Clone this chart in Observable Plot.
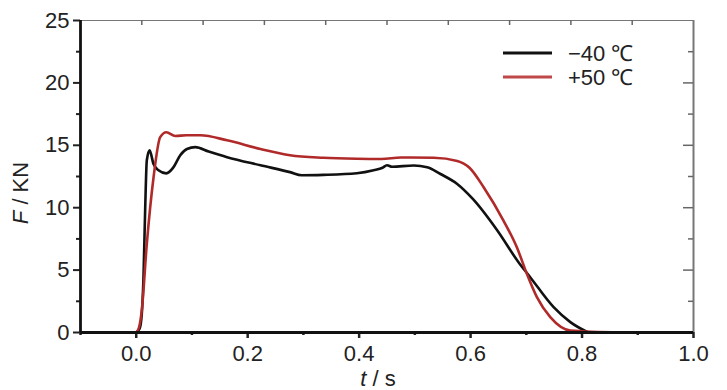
<!DOCTYPE html>
<html>
<head>
<meta charset="utf-8">
<script src="https://cdn.jsdelivr.net/npm/d3@7"></script>
<script src="https://cdn.jsdelivr.net/npm/@observablehq/plot@0.6"></script>
<style>
  html, body { margin: 0; padding: 0; background: #fff; }
  #chart svg { display: block; }
</style>
</head>
<body>
<div id="chart"></div>
<script>
// Series: time (s) and force (kN)
const seriesNames = ["−40 ℃", "+50 ℃"];
const tCold = [0, 0.006, 0.010, 0.013, 0.016, 0.019, 0.024, 0.031, 0.040, 0.054, 0.067, 0.079, 0.091, 0.106, 0.130, 0.163, 0.223, 0.276, 0.297, 0.336, 0.396, 0.426, 0.442, 0.450, 0.459, 0.498, 0.522, 0.546, 0.576, 0.604, 0.648, 0.686, 0.707, 0.749, 0.779, 0.811];
const fCold = [0, 0.3, 1.5, 4.4, 9.8, 13.8, 14.6, 13.5, 13.0, 12.75, 13.25, 14.2, 14.7, 14.85, 14.5, 14.05, 13.4, 12.85, 12.6, 12.63, 12.76, 13.0, 13.2, 13.4, 13.28, 13.38, 13.25, 12.7, 11.9, 10.7, 8.17, 5.63, 4.43, 2.03, 0.83, 0];
const tHot = [0, 0.005, 0.010, 0.019, 0.031, 0.043, 0.054, 0.070, 0.090, 0.115, 0.163, 0.223, 0.276, 0.336, 0.396, 0.440, 0.475, 0.534, 0.576, 0.598, 0.624, 0.659, 0.683, 0.701, 0.719, 0.743, 0.779, 0.869];
const fHot = [0, 0.4, 1.8, 7.1, 12.4, 15.65, 16.05, 15.75, 15.8, 15.8, 15.4, 14.7, 14.2, 14.0, 13.92, 13.9, 14.02, 14.0, 13.75, 13.2, 11.6, 8.97, 6.83, 4.7, 2.83, 1.23, 0.16, 0];

// Axis ticks
const xTickLabels = [0, 0.2, 0.4, 0.6, 0.8, 1.0];
const xMinorTicks = [-0.1, 0.1, 0.3, 0.5, 0.7, 0.9];
const yTickLabels = [0, 5, 10, 15, 20, 25];
const yMinorTicks = [2.5, 7.5, 12.5, 17.5, 22.5];
const topTicks = [0.01, 0.12, 0.23, 0.34, 0.45, 0.56, 0.67, 0.78, 0.89];
const rightMajor = [5, 10, 15, 20];
const rightMinor = [2.5, 7.5, 12.5, 17.5, 22.5];

const colors = ["#111111", "#b02a2a"];
const legendColors = ["#111111", "#c04848"];

const data = [
  ...tCold.map((t, i) => ({series: seriesNames[0], t, f: fCold[i]})),
  ...tHot.map((t, i) => ({series: seriesNames[1], t, f: fHot[i]}))
];

const W = 727, H = 390;
const mL = 80, mR = 34, mT = 20, mB = 58;
const frameW = W - mL - mR, frameH = H - mT - mB;

const chart = Plot.plot({
  width: W,
  height: H,
  marginLeft: mL,
  marginRight: mR,
  marginTop: mT,
  marginBottom: mB,
  style: {fontFamily: "'Liberation Sans', Arial, sans-serif", fontSize: "22px", color: "#222", background: "#fff"},
  x: {domain: [-0.1, 1.0]},
  y: {domain: [0, 25]},
  color: {domain: seriesNames, range: colors},
  marks: [
    // frame top and right (gray)
    Plot.ruleY([25], {stroke: "#777", strokeWidth: 1.2}),
    Plot.ruleX([1.0], {stroke: "#777", strokeWidth: 2}),
    // inward ticks on top and right
    Plot.tickX(topTicks, {x: d => d, insetBottom: frameH - 5, stroke: "#666", strokeWidth: 1.5}),
    Plot.tickY(rightMajor, {y: d => d, insetLeft: frameW - 10, stroke: "#666", strokeWidth: 1.5}),
    Plot.tickY(rightMinor, {y: d => d, insetLeft: frameW - 5, stroke: "#666", strokeWidth: 1.5}),
    // bottom axis
    Plot.axisX({ticks: xTickLabels, tickFormat: d3.format(".1f"), tickSize: 6, tickPadding: 7, strokeWidth: 2.5, fill: "#222", fontSize: 22, label: null}),
    Plot.axisX({ticks: xMinorTicks, tickFormat: () => "", tickSize: 3, strokeWidth: 2.5, label: null}),
    // left axis
    Plot.axisY({ticks: yTickLabels, tickSize: 7, tickPadding: 4, strokeWidth: 2, fill: "#222", fontSize: 22, label: null}),
    Plot.axisY({ticks: yMinorTicks, tickFormat: () => "", tickSize: 4, strokeWidth: 2, label: null}),
    // curves
    Plot.line(data, {x: "t", y: "f", z: "series", stroke: "series", strokeWidth: 2.6, curve: "monotone-x"}),
    // axis lines (thick black)
    Plot.ruleY([0], {stroke: "#111", strokeWidth: 2.8}),
    Plot.ruleX([-0.1], {stroke: "#111", strokeWidth: 2.8})
  ]
});

document.getElementById("chart").appendChild(chart);

// Axis titles and legend as real SVG text
const svg = d3.select(chart);
const font = "'Liberation Sans', Arial, sans-serif";

const xl = svg.append("text")
  .attr("x", 378).attr("y", 386)
  .attr("text-anchor", "middle")
  .attr("font-family", font).attr("font-size", 22).attr("fill", "#222");
xl.append("tspan").attr("font-style", "italic").text("t");
xl.append("tspan").text(" / s");

const yl = svg.append("text")
  .attr("transform", "translate(28,193) rotate(-90)")
  .attr("text-anchor", "middle")
  .attr("font-family", font).attr("font-size", 22).attr("fill", "#222");
yl.append("tspan").attr("font-style", "italic").text("F");
yl.append("tspan").text(" / KN");

const legendRows = [53, 77];
seriesNames.forEach((name, i) => {
  svg.append("line")
    .attr("x1", 503).attr("x2", 552)
    .attr("y1", legendRows[i]).attr("y2", legendRows[i])
    .attr("stroke", legendColors[i]).attr("stroke-width", 2.8);
  svg.append("text")
    .attr("x", 568).attr("y", legendRows[i])
    .attr("dy", "0.36em")
    .attr("text-anchor", "start")
    .attr("font-family", font).attr("font-size", 22).attr("fill", "#222")
    .text(name);
});
</script>
</body>
</html>
